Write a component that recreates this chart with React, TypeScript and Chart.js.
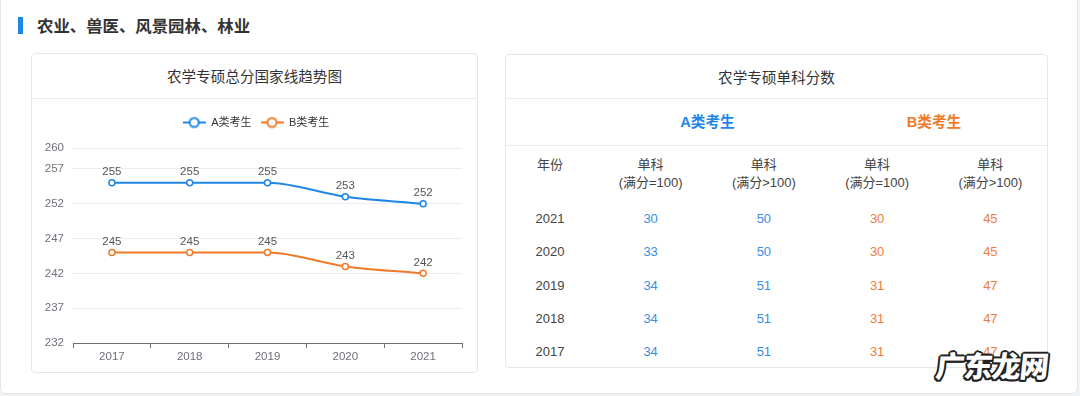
import React, { useEffect, useRef } from 'react';
import { Chart, registerables } from 'chart.js';

Chart.register(...registerables);

// ---- data ----
const years = ['2017', '2018', '2019', '2020', '2021'];
const seriesA = [255, 255, 255, 253, 252];
const seriesB = [245, 245, 245, 243, 242];
const yTicks = [232, 237, 242, 247, 252, 257, 260];
const seriesNames = ['A类考生', 'B类考生'];

const tableYears = ['2021', '2020', '2019', '2018', '2017'];
const aSingle100 = [30, 33, 34, 34, 34];
const aSingleOver = [50, 50, 51, 51, 51];
const bSingle100 = [30, 30, 31, 31, 31];
const bSingleOver = [45, 45, 47, 47, 47];
const subHeaders = ['(满分=100)', '(满分>100)', '(满分=100)', '(满分>100)'];

const BLUE = '#1e87e5';
const ORANGE = '#f07a28';
const T_BLUE = '#3a8de6';
const T_ORANGE = '#f07c3c';
const FONT = '"Liberation Sans", Arial, "Noto Sans CJK SC", sans-serif';

function legendIcon(color: string) {
  const c = document.createElement('canvas');
  c.width = 23;
  c.height = 14;
  const g = c.getContext('2d')!;
  g.strokeStyle = color;
  g.lineWidth = 2;
  g.beginPath();
  g.moveTo(0, 7);
  g.lineTo(23, 7);
  g.stroke();
  g.beginPath();
  g.arc(11.5, 7, 4.5, 0, Math.PI * 2);
  g.fillStyle = '#fff';
  g.fill();
  g.stroke();
  return c;
}

const valueLabels = {
  id: 'valueLabels',
  afterDatasetsDraw(chart: any) {
    const ctx = chart.ctx;
    ctx.save();
    ctx.font = `11.5px ${FONT}`;
    ctx.fillStyle = '#555';
    ctx.textAlign = 'center';
    ctx.textBaseline = 'bottom';
    chart.data.datasets.forEach((ds: any, i: number) => {
      const meta = chart.getDatasetMeta(i);
      meta.data.forEach((pt: any, j: number) => {
        ctx.fillText(String(ds.data[j]), pt.x, pt.y - 5);
      });
    });
    ctx.restore();
  },
};

// adds extra space below the legend and centres it on the card
const legendTweak = {
  id: 'legendTweak',
  beforeInit(chart: any) {
    const lg = chart.legend;
    if (!lg) return;
    const orig = lg.fit;
    lg.fit = function fit() {
      orig.call(this);
      this.height += 10;
    };
  },
  afterLayout(chart: any) {
    const lg = chart.legend;
    if (!lg) return;
    lg.left += 9;
    lg.right += 9;
  },
};

function LineChart() {
  const ref = useRef<HTMLCanvasElement>(null);
  useEffect(() => {
    const icons = [legendIcon(BLUE), legendIcon(ORANGE)];
    const colors = [BLUE, ORANGE];
    const chart = new Chart(ref.current!, {
      type: 'line',
      data: {
        labels: years,
        datasets: [seriesA, seriesB].map((d, i) => ({
          label: seriesNames[i],
          data: d,
          borderColor: colors[i],
          backgroundColor: '#fff',
          borderWidth: 2,
          pointRadius: 3,
          pointBorderWidth: 1.5,
          pointBackgroundColor: '#fff',
          pointBorderColor: colors[i],
          cubicInterpolationMode: 'monotone' as const,
        })),
      },
      options: {
        responsive: false,
        animation: false,
        layout: { padding: { top: 9, right: 15, left: 0, bottom: 0 } },
        plugins: {
          tooltip: { enabled: false },
          legend: {
            position: 'top',
            labels: {
              usePointStyle: true,
              pointStyleWidth: 23,
              padding: 9,
              color: '#333',
              font: { size: 11, family: FONT },
              generateLabels: () =>
                seriesNames.map((n, i) => ({
                  text: n,
                  pointStyle: icons[i] as any,
                  fillStyle: colors[i],
                  strokeStyle: colors[i],
                  lineWidth: 0,
                  hidden: false,
                  datasetIndex: i,
                  fontColor: '#333',
                })),
            },
          },
        },
        scales: {
          x: {
            offset: true,
            grid: {
              offset: true,
              drawOnChartArea: false,
              drawTicks: true,
              tickLength: 5,
              color: '#6e7079',
            },
            border: { display: true, color: '#6e7079' },
            ticks: { color: '#6e7079', padding: 2, font: { size: 11.5, family: FONT } },
            afterFit: (s: any) => {
              s.height = 29;
            },
          },
          y: {
            min: 232,
            max: 260,
            afterBuildTicks: (axis: any) => {
              axis.ticks = yTicks.map((v) => ({ value: v }));
            },
            grid: { color: '#e9ecf2', drawTicks: false },
            border: { display: false },
            ticks: { color: '#6e7079', padding: 9, font: { size: 11.5, family: FONT } },
            afterFit: (s: any) => {
              s.width = 41;
            },
          },
        },
      },
      plugins: [legendTweak, valueLabels],
    } as any);
    return () => chart.destroy();
  }, []);
  return <canvas ref={ref} width={445} height={273} style={{ display: 'block' }} />;
}

const cellStyle: React.CSSProperties = { textAlign: 'center' };
const GRID = '88px repeat(4, 1fr)';

export default function App() {
  const tableCols = [aSingle100, aSingleOver, bSingle100, bSingleOver];
  const tableColors = [T_BLUE, T_BLUE, T_ORANGE, T_ORANGE];
  return (
    <div style={{ position: 'fixed', inset: 0, background: '#f1f2f4', fontFamily: FONT, overflow: 'hidden' }}>
      <div
        style={{
          position: 'absolute',
          left: 0,
          top: -10,
          width: 1076,
          height: 402,
          background: '#fff',
          border: '1px solid #e6e6e6',
          borderRadius: 6,
        }}
      />
      {/* section title */}
      <div style={{ position: 'absolute', left: 18, top: 17, width: 5, height: 17, background: '#1e87e5' }} />
      <div
        style={{
          position: 'absolute',
          left: 37,
          top: 14,
          fontSize: 16.4,
          fontWeight: 700,
          color: '#333',
          lineHeight: '22px',
          fontFamily: '"Noto Sans CJK SC", sans-serif',
        }}
      >
        农业、兽医、风景园林、林业
      </div>

      {/* left card */}
      <div
        style={{
          position: 'absolute',
          left: 31,
          top: 53,
          width: 445,
          height: 318,
          border: '1px solid #e6e6e6',
          borderRadius: 4,
          background: '#fff',
        }}
      >
        <div
          style={{
            height: 44,
            borderBottom: '1px solid #ebebeb',
            textAlign: 'center',
            lineHeight: '44px',
            fontSize: 14.6,
            color: '#333',
            fontFamily: '"Noto Sans CJK SC", sans-serif',
          }}
        >
          农学专硕总分国家线趋势图
        </div>
        <div style={{ position: 'absolute', left: 0, top: 45 }}>
          <LineChart />
        </div>
      </div>

      {/* right card */}
      <div
        style={{
          position: 'absolute',
          left: 505,
          top: 54,
          width: 541,
          height: 312,
          border: '1px solid #e6e6e6',
          borderRadius: 4,
          background: '#fff',
          color: '#444',
        }}
      >
        <div
          style={{
            height: 43,
            borderBottom: '1px solid #ebebeb',
            textAlign: 'center',
            lineHeight: '43px',
            fontSize: 14.6,
            color: '#333',
            fontFamily: '"Noto Sans CJK SC", sans-serif',
          }}
        >
          农学专硕单科分数
        </div>
        <div
          style={{
            height: 46,
            borderBottom: '1px solid #ebebeb',
            display: 'grid',
            gridTemplateColumns: '88px 227px 1fr',
            lineHeight: '46px',
            fontSize: 14.6,
            fontWeight: 700,
          }}
        >
          <div />
          <div style={{ ...cellStyle, color: BLUE }}>A类考生</div>
          <div style={{ ...cellStyle, color: ORANGE }}>B类考生</div>
        </div>
        <div
          style={{
            position: 'absolute',
            left: 0,
            right: 0,
            top: 101,
            display: 'grid',
            gridTemplateColumns: GRID,
            fontSize: 13,
            lineHeight: '18px',
            color: '#444',
          }}
        >
          <div style={cellStyle}>年份</div>
          {subHeaders.map((s, i) => (
            <div key={i} style={cellStyle}>
              单科
              <br />
              {s}
            </div>
          ))}
        </div>
        {tableYears.map((y, r) => (
          <div
            key={y}
            style={{
              position: 'absolute',
              left: 0,
              right: 0,
              top: 154 + r * 33.25,
              display: 'grid',
              gridTemplateColumns: GRID,
              fontSize: 13,
              lineHeight: '20px',
            }}
          >
            <div style={{ ...cellStyle, color: '#444' }}>{y}</div>
            {tableCols.map((col, c) => (
              <div key={c} style={{ ...cellStyle, color: tableColors[c] }}>
                {col[r]}
              </div>
            ))}
          </div>
        ))}
      </div>

      {/* watermark */}
      <div
        style={{
          position: 'absolute',
          left: 936,
          top: 343,
          fontSize: 29,
          fontWeight: 900,
          color: '#fff',
          fontFamily: '"Noto Sans CJK SC", sans-serif',
          letterSpacing: -1,
          textShadow:
            '-1.5px -1.5px 0 #222, 1.5px -1.5px 0 #222, -1.5px 1.5px 0 #222, 1.5px 1.5px 0 #222, 0 -2px 0 #222, 0 2px 0 #222, -2px 0 0 #222, 2px 0 0 #222',
          transform: 'skewX(-6deg)',
        }}
      >
        广东龙网
      </div>
    </div>
  );
}
